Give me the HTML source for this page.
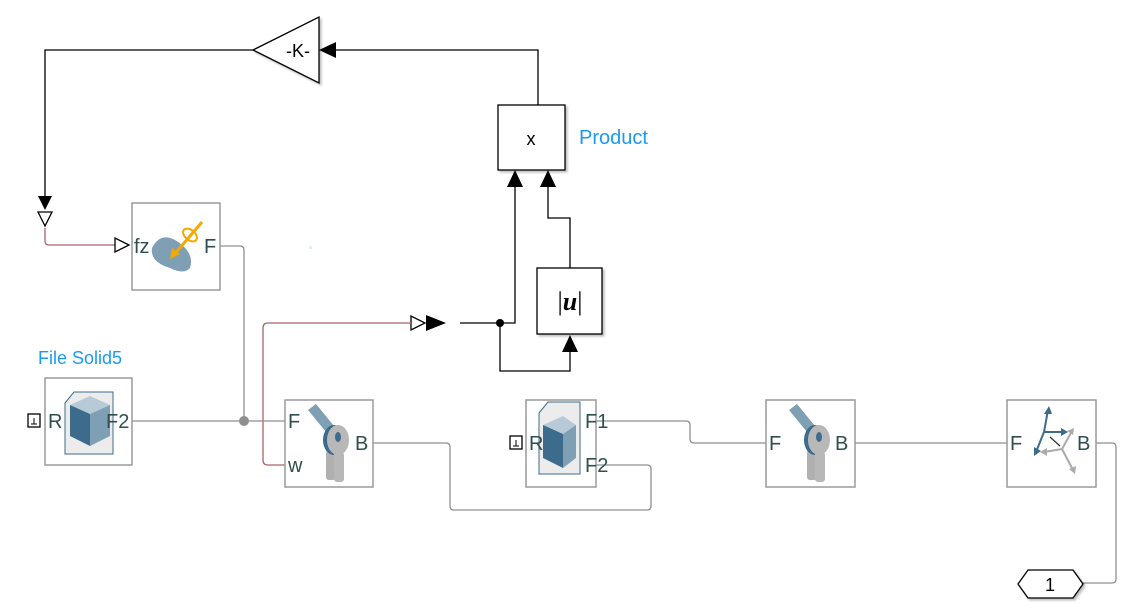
<!DOCTYPE html>
<html><head><meta charset="utf-8"><style>
html,body{margin:0;padding:0;background:#fff;}
svg{display:block;font-family:"Liberation Sans",Arial,sans-serif;}
</style></head><body>
<svg width="1136" height="612" viewBox="0 0 1136 612" xmlns="http://www.w3.org/2000/svg">
<defs>
<filter id="sh" x="-10%" y="-10%" width="130%" height="130%"><feDropShadow dx="2" dy="2" stdDeviation="1" flood-color="#000" flood-opacity="0.25"/></filter>
</defs>
<g fill="none" stroke="#000" stroke-width="1.3">
<polyline points="538,105 538,50 336,50"/>
<polyline points="253,50 45,50 45,196"/>
<polyline points="570,268 570,218 548,218 548,187"/>
<polyline points="460,323 500,323 515,323 515,187"/>
<polyline points="500,323 500,371 570,371 570,352"/>
</g>
<circle cx="500" cy="323" r="4" fill="#000"/>
<polygon points="319,50 336,42 336,58" fill="#000"/>
<polygon points="45,210 38,196 52,196" fill="#000"/>
<polygon points="45,226 38,212 52,212" fill="#fff" stroke="#000" stroke-width="1.3"/>
<polygon points="515,170 507,187 523,187" fill="#000"/>
<polygon points="548,170 540,187 556,187" fill="#000"/>
<polygon points="570,335 562,352 578,352" fill="#000"/>
<polygon points="411,316 411,330 425,323" fill="#fff" stroke="#000" stroke-width="1.3"/>
<polygon points="426,315 426,331 446,323" fill="#000"/>
<g fill="none" stroke="#a8656b" stroke-width="1.3">
<path d="M45,228 L45,241 Q45,245 49,245 L115,245"/>
<path d="M411,323 L268,323 Q263,323 263,328 L263,460 Q263,465 268,465 L285,465"/>
</g>
<polygon points="115,238 115,252 129,245" fill="#fff" stroke="#000" stroke-width="1.3"/>
<g fill="none" stroke="#8f8f8f" stroke-width="1.3">
<path d="M220,246 L240,246 Q244,246 244,250 L244,421"/>
<line x1="132" y1="421" x2="285" y2="421"/>
<path d="M373,443 L446,443 Q450,443 450,447 L450,506 Q450,510 454,510 L647,510 Q651,510 651,506 L651,469 Q651,465 647,465 L596,465"/>
<path d="M596,421 L686,421 Q690,421 690,425 L690,439 Q690,443 694,443 L766,443"/>
<line x1="855" y1="443" x2="1007" y2="443"/>
<path d="M1096,443 L1112,443 Q1116,443 1116,447 L1116,579 Q1116,583 1112,583 L1083,583"/>
</g>
<circle cx="244" cy="421" r="5" fill="#8f8f8f"/>
<polygon points="253,50 319,17 319,83" fill="#fff" stroke="#000" stroke-width="1.3" filter="url(#sh)"/>
<text x="298" y="57" font-size="18" text-anchor="middle">-K-</text>
<rect x="498" y="105" width="67" height="65" fill="#fff" stroke="#000" stroke-width="1.3" filter="url(#sh)"/>
<text x="531" y="145" font-size="18" text-anchor="middle">x</text>
<text x="579" y="144" font-size="20" fill="#1a9bf0">Product</text>
<rect x="537" y="268" width="65" height="66" fill="#fff" stroke="#000" stroke-width="1.3" filter="url(#sh)"/>
<text x="570" y="310" font-size="26" text-anchor="middle" font-family="Liberation Serif,serif" font-weight="bold"><tspan font-weight="normal">|</tspan><tspan font-style="italic">u</tspan><tspan font-weight="normal">|</tspan></text>
<g fill="#fff" stroke="#9a9a9a" stroke-width="1.5">
<rect x="132" y="203" width="88" height="87"/>
<rect x="45" y="378" width="87" height="87"/>
<rect x="285" y="400" width="88" height="87"/>
<rect x="526" y="400" width="70" height="87"/>
<rect x="766" y="400" width="89" height="87"/>
<rect x="1007" y="400" width="89" height="87"/>
</g>
<path d="M152,248 Q160,232 175,240 Q195,252 190,268 Q184,275 170,268 Q150,262 152,248Z" fill="#7f9fb5"/>
<line x1="202" y1="222" x2="173" y2="256" stroke="#f5a800" stroke-width="3"/>
<polygon points="170,259 172,248 180,254" fill="#f5a800"/>
<ellipse cx="190" cy="235" rx="8" ry="5" fill="none" stroke="#f5a800" stroke-width="2" transform="rotate(40 190 235)"/>
<g>
<path d="M65,403 L74,392 L113,392 L113,454 L65,454Z" fill="#ececec" stroke="#3d6b8c" stroke-width="1"/>
<polygon points="70,405 90,396 110,405 90,414" fill="#b6cad8"/>
<polygon points="70,405 90,414 90,446 70,436" fill="#3d6b8c"/>
<polygon points="90,414 110,405 110,436 90,446" fill="#7f9fb5"/>
<rect x="28" y="414" width="12" height="13" fill="#fff" stroke="#000" stroke-width="1.3"/>
<path d="M31,424 L37,424 M34,424 L34,418" stroke="#000" stroke-width="1"/>
</g>
<g>
<path d="M539,413 L548,402 L580,402 L580,474 L539,474Z" fill="#ececec" stroke="#3d6b8c" stroke-width="1"/>
<polygon points="543,425 563,416 576,425 563,434" fill="#b6cad8"/>
<polygon points="543,425 563,434 563,468 543,458" fill="#3d6b8c"/>
<polygon points="563,434 576,425 576,458 563,468" fill="#7f9fb5"/>
<rect x="510" y="436" width="12" height="13" fill="#fff" stroke="#000" stroke-width="1.3"/>
<path d="M513,446 L519,446 M516,446 L516,440" stroke="#000" stroke-width="1"/>
</g>
<g id="rev">
<polygon points="308,410 316,404 334,426 326,432" fill="#7f9fb5"/>
<rect x="326" y="450" width="10" height="30" rx="3" fill="#b0b0b0"/>
<ellipse cx="334" cy="440" rx="11" ry="15" fill="#3d6b8c"/>
<ellipse cx="338" cy="440" rx="11" ry="15" fill="#b8b8b8"/>
<ellipse cx="338" cy="437" rx="3" ry="5" fill="#3d6b8c"/>
<rect x="334" y="452" width="10" height="30" rx="3" fill="#b8b8b8"/>
</g>
<use href="#rev" transform="translate(481,0)"/>
<g stroke-width="2" fill="none">
<line x1="1062" y1="449" x2="1072" y2="431" stroke="#aaa"/>
<line x1="1062" y1="449" x2="1044" y2="452" stroke="#aaa"/>
<line x1="1062" y1="449" x2="1073" y2="470" stroke="#aaa"/>
<line x1="1044" y1="432" x2="1048" y2="410" stroke="#3d6b8c"/>
<line x1="1044" y1="432" x2="1064" y2="432" stroke="#3d6b8c"/>
<line x1="1044" y1="432" x2="1036" y2="452" stroke="#3d6b8c"/>
<line x1="1060" y1="446" x2="1050" y2="437" stroke="#333" stroke-width="1.3"/>
</g>
<g fill="#3d6b8c">
<polygon points="1049,406 1044,414 1052,414"/>
<polygon points="1068,432 1061,428 1061,436"/>
<polygon points="1034,456 1034,447 1041,451"/>
</g>
<g fill="#aaa">
<polygon points="1074,428 1067,431 1073,435"/>
<polygon points="1040,452 1047,448 1047,456"/>
<polygon points="1075,474 1069,469 1076,466"/>
</g>
<g font-size="20" fill="#2f4f4f">
<text x="134" y="253">fz</text>
<text x="204" y="253">F</text>
<text x="48" y="428">R</text>
<text x="106" y="428">F2</text>
<text x="288" y="428">F</text>
<text x="288" y="472">w</text>
<text x="355" y="450">B</text>
<text x="529" y="450">R</text>
<text x="585" y="428">F1</text>
<text x="585" y="472">F2</text>
<text x="769" y="450">F</text>
<text x="835" y="450">B</text>
<text x="1010" y="450">F</text>
<text x="1077" y="450">B</text>
</g>
<text x="38" y="364" font-size="18" fill="#1a9bf0">File Solid5</text>
<polygon points="1018,584 1028,570 1073,570 1083,584 1073,598 1028,598" fill="#fff" stroke="#000" stroke-width="1.3" filter="url(#sh)"/>
<text x="1050" y="591" font-size="18" text-anchor="middle">1</text>
<rect x="309" y="246" width="3" height="3" fill="#dcefff"/>
</svg>
</body></html>
